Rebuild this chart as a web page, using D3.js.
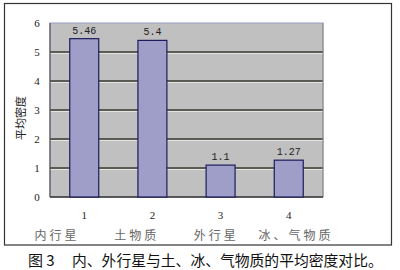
<!DOCTYPE html>
<html lang="zh">
  <head>
    <meta charset="UTF-8" />
    <title>平均密度对比</title>
    <script src="https://d3js.org/d3.v7.min.js"></script>
    <style>
      body { margin: 0; background: #fff; }
      text { font-family: "Liberation Serif", "DejaVu Serif", serif; }
      .cjk { font-family: "Noto Sans CJK SC", sans-serif; }
    </style>
  </head>
  <body>
    <div class="chart"></div>
    <script>
      // 数据
      const categories = ['1', '2', '3', '4']
      const densities = [5.46, 5.4, 1.1, 1.27]
      const valueLabels = ['5.46', '5.4', '1.1', '1.27']
      const groupNames = ['内行星', '土物质', '外行星', '冰、气物质']
      const yTicks = [0, 1, 2, 3, 4, 5, 6]

      const width = 400
      const height = 270
      const plot = { left: 50, top: 23, right: 323, bottom: 197 }

      const svg = d3.select('.chart').append('svg')
        .attr('width', width)
        .attr('height', height)

      // 外框
      svg.append('rect')
        .attr('x', 4.5).attr('y', 3.5)
        .attr('width', 387).attr('height', 241.5)
        .attr('fill', '#fff')
        .attr('stroke', '#333')
        .attr('stroke-width', 1.2)

      const x = d3.scaleBand()
        .domain(categories)
        .range([plot.left, plot.right])
        .paddingInner(0.575)
        .paddingOuter(0.29)

      const y = d3.scaleLinear()
        .domain([0, 6])
        .range([plot.bottom, plot.top])

      // 绘图区
      svg.append('rect')
        .attr('x', plot.left).attr('y', plot.top)
        .attr('width', plot.right - plot.left)
        .attr('height', plot.bottom - plot.top)
        .attr('fill', '#c0c0c0')
        .attr('stroke', '#9c9cc4')
        .attr('stroke-width', 1)

      // 网格线
      const grid = svg.append('g')
      grid.selectAll('line.hi')
        .data(yTicks.filter((d) => d > 0 && d < 6))
        .join('line')
        .attr('class', 'hi')
        .attr('x1', plot.left).attr('x2', plot.right)
        .attr('y1', (d) => y(d) + 1.5).attr('y2', (d) => y(d) + 1.5)
        .attr('stroke', '#e4e4e4')
        .attr('stroke-width', 1)
      grid.selectAll('line.main')
        .data(yTicks.filter((d) => d > 0 && d < 6))
        .join('line')
        .attr('class', 'main')
        .attr('x1', plot.left).attr('x2', plot.right)
        .attr('y1', (d) => y(d)).attr('y2', (d) => y(d))
        .attr('stroke', '#3a3a30')
        .attr('stroke-width', 1.5)

      // 轴线
      svg.append('line')
        .attr('x1', plot.left).attr('x2', plot.left)
        .attr('y1', plot.top).attr('y2', plot.bottom)
        .attr('stroke', '#555').attr('stroke-width', 1.2)
      svg.append('line')
        .attr('x1', plot.right).attr('x2', plot.right)
        .attr('y1', plot.top).attr('y2', plot.bottom)
        .attr('stroke', '#8a8a80').attr('stroke-width', 1)
      svg.append('line')
        .attr('x1', plot.left).attr('x2', plot.right)
        .attr('y1', plot.bottom).attr('y2', plot.bottom)
        .attr('stroke', '#333').attr('stroke-width', 1.5)

      // 柱子
      svg.append('g')
        .selectAll('rect')
        .data(densities)
        .join('rect')
        .attr('x', (d, i) => x(categories[i]))
        .attr('y', (d) => y(d))
        .attr('width', x.bandwidth())
        .attr('height', (d) => y(0) - y(d))
        .attr('fill', '#9e9ec8')
        .attr('stroke', '#1c1c5a')
        .attr('stroke-width', 1.2)

      // 数值标签
      svg.append('g')
        .selectAll('text')
        .data(densities)
        .join('text')
        .attr('x', (d, i) => x(categories[i]) + x.bandwidth() / 2)
        .attr('y', (d) => y(d) - 5)
        .attr('text-anchor', 'middle')
        .style('font-family', '"Liberation Mono", "DejaVu Sans Mono", monospace')
        .style('font-size', '10px')
        .attr('fill', '#222')
        .text((d, i) => valueLabels[i])

      // y 轴刻度
      svg.append('g')
        .selectAll('text')
        .data(yTicks)
        .join('text')
        .attr('x', 37)
        .attr('y', (d) => y(d))
        .attr('dy', '0.35em')
        .attr('text-anchor', 'middle')
        .style('font-size', '11px')
        .attr('fill', '#222')
        .text((d) => d)

      // x 轴刻度
      svg.append('g')
        .selectAll('text')
        .data(categories)
        .join('text')
        .attr('x', (d) => x(d) + x.bandwidth() / 2)
        .attr('y', 219)
        .attr('text-anchor', 'middle')
        .style('font-size', '11px')
        .attr('fill', '#222')
        .text((d) => d)

      // 分组名称
      const labelX = d3.scalePoint().domain(groupNames).range([57, 296])
      svg.append('g')
        .selectAll('text')
        .data(groupNames)
        .join('text')
        .attr('class', 'cjk')
        .attr('x', (d) => labelX(d))
        .attr('y', 240)
        .attr('text-anchor', 'middle')
        .style('font-size', '12px')
        .style('letter-spacing', '3px')
        .attr('fill', '#666')
        .text((d) => d)

      // y 轴标题
      svg.append('text')
        .attr('class', 'cjk')
        .attr('transform', 'translate(21, 118) rotate(-90)')
        .attr('text-anchor', 'middle')
        .attr('dy', '0.35em')
        .style('font-size', '11px')
        .attr('fill', '#222')
        .text('平均密度')

      // 图题
      svg.append('text')
        .attr('class', 'cjk')
        .attr('x', 28)
        .attr('y', 266)
        .style('font-size', '15px')
        .attr('fill', '#111')
        .text('图 3')
      svg.append('text')
        .attr('class', 'cjk')
        .attr('x', 72)
        .attr('y', 266)
        .style('font-size', '14.8px')
        .attr('fill', '#111')
        .text('内、外行星与土、冰、气物质的平均密度对比。')
    </script>
  </body>
</html>
